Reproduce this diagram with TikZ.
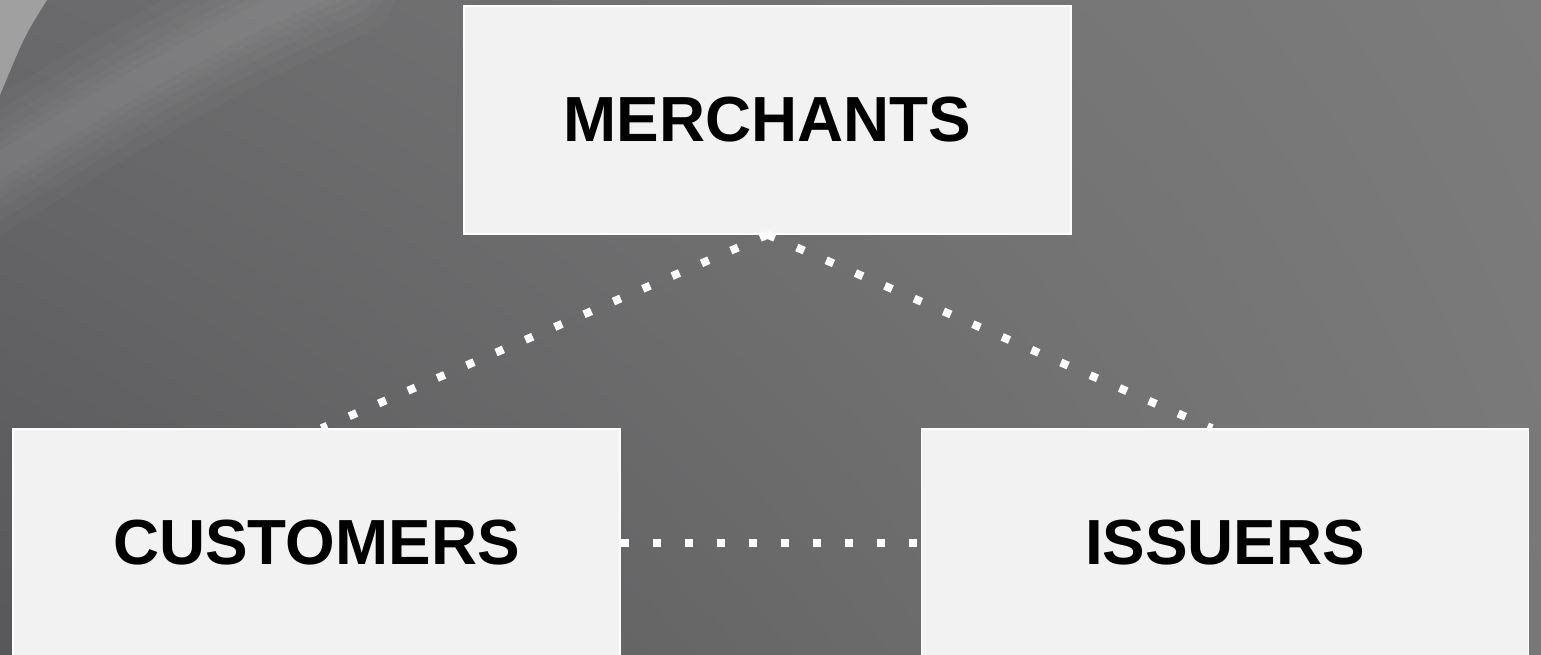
\documentclass[tikz,border=0pt]{standalone}
\usepackage{fontspec}
\setmainfont{Liberation Sans}
\usepackage{tikz}
\usetikzlibrary{calc, shadings}
\definecolor{boxfill}{RGB}{242,242,242}
\definecolor{bgdark}{RGB}{88,88,90}
\definecolor{bgmid}{RGB}{106,106,108}
\definecolor{bglight}{RGB}{124,124,124}
\definecolor{bgright}{RGB}{120,120,120}
\definecolor{swoosh}{RGB}{160,160,160}

\begin{document}
\begin{tikzpicture}[x=0.02cm,y=-0.02cm,
  party/.style={rectangle,draw=white,line width=0.03cm,fill=boxfill,
    minimum width=12.14cm,minimum height=4.56cm,inner sep=0pt,
    font=\fontsize{36.3}{40}\selectfont\bfseries,text=black},
  link/.style={white,line width=0.16cm,dash pattern=on 0.16cm off 0.48cm}]
  \useasboundingbox (0,0) rectangle (1541,655);
  \clip (0,0) rectangle (1541,655);
  % background
  \shade[upper left=bgmid,lower left=bgdark,upper right=bglight,lower right=bgright]
    (0,0) rectangle (1541,655);
  \foreach \w in {2.4,1.9,1.5,1.1,0.8,0.5}
    \draw[white,opacity=0.022,line width=\w cm,line cap=round]
      (-40,190)..controls(90,110)and(200,40)..(340,-20);
  \fill[swoosh](0,0)--(47,0)..controls(25,35)..(0,95)--cycle;
  % parties
  \node[party] (merchants) at (767.5,120) {MERCHANTS};
  \node[party] (customers) at (316.5,543) {CUSTOMERS};
  \node[party] (issuers) at (1225,543) {ISSUERS};
  % dotted links
  \draw[link](merchants.south)--($(customers.north)+(5,0)$);
  \draw[link](merchants.south)--($(issuers.north)+(-13,0)$);
  \draw[link](customers.east)--(issuers.west);
\end{tikzpicture}
\end{document}
